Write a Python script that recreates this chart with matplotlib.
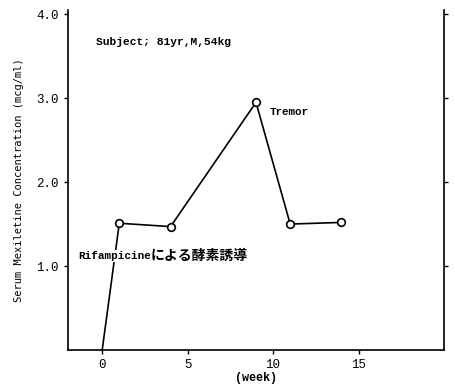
import matplotlib
matplotlib.use("Agg")
import matplotlib.pyplot as plt

plt.rcParams['font.family'] = ['Liberation Mono', 'Noto Sans CJK JP', 'DejaVu Sans']

weeks = [0, 1, 4, 9, 11, 14]
conc = [0.0, 1.51, 1.47, 2.95, 1.50, 1.52]
marked = [False, True, True, True, True, True]

xticks = [0, 5, 10, 15]
yticks = [1.0, 2.0, 3.0, 4.0]
ytick_labels = ["1.0", "2.0", "3.0", "4.0"]

fig = plt.figure(figsize=(4.55, 3.87), dpi=100)
ax = fig.add_axes([0.1495, 0.0956, 0.8263, 0.8785])

ax.plot(weeks, conc, color='black', lw=1.2, zorder=2)
mx = [w for w, m in zip(weeks, marked) if m]
my = [c for c, m in zip(conc, marked) if m]
ax.plot(mx, my, 'o', ms=5.5, mfc='white', mec='black', mew=1.2, zorder=3)

ax.set_xlim(-2, 20)
ax.set_ylim(0, 4.05)
ax.spines['top'].set_visible(False)
for s in ['left', 'right', 'bottom']:
    ax.spines[s].set_linewidth(1.2)

ax.set_xticks(xticks)
ax.set_yticks(yticks)
ax.set_yticklabels(ytick_labels)
ax.tick_params(axis='both', direction='out', length=3, width=1, labelsize=9)
ax.tick_params(axis='y', right=True, labelright=False)

ax.text(-0.35, 3.67, "Subject; 81yr,M,54kg", fontsize=8.1, fontweight='bold', va='center')
ax.text(9.8, 2.84, "Tremor", fontsize=7.8, fontweight='bold', va='center')
ax.text(-1.4, 1.12, "Rifampicine", fontsize=7.9, fontweight='bold', va='center',
        bbox=dict(facecolor='white', edgecolor='none', pad=1))
ax.text(2.85, 1.12, "による酵素誘導", fontsize=10, fontweight='bold', va='center',
        family=['Noto Sans CJK JP'],
        bbox=dict(facecolor='white', edgecolor='none', pad=0.3))

ax.set_xlabel("(week)", fontsize=8.5, fontweight='bold', labelpad=1)
ax.set_ylabel("Serum Mexiletine Concentration (mcg/ml)", fontsize=7.5,
              family=['DejaVu Sans Mono'], labelpad=9)

fig.savefig("out.png", dpi=100)
